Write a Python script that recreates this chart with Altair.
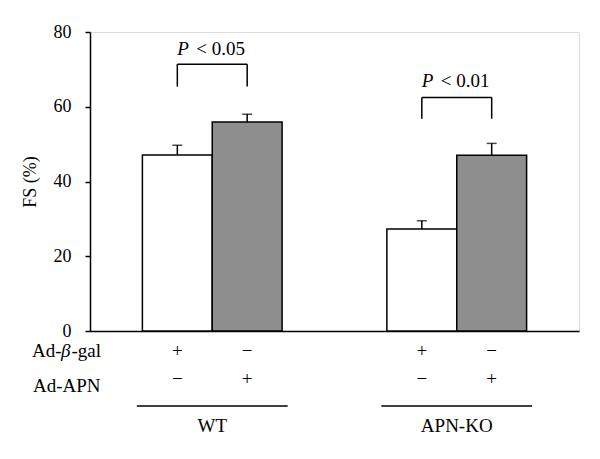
import altair as alt
import pandas as pd

# ---- data ----
groups = ["WT", "APN-KO"]
conditions = ["Ad-β-gal", "Ad-APN"]
fs_mean = [47.1, 55.9, 27.3, 47.0]      # WT β-gal, WT APN, KO β-gal, KO APN
fs_sem = [2.6, 2.1, 2.2, 3.2]
beta_gal_signs = ["+", "−", "+", "−"]
apn_signs = ["−", "+", "−", "+"]
p_values = ["< 0.05", "< 0.01"]
bracket_top = [71.4, 62.5]
bracket_leg_bottom = [65.4, 56.8]
p_text_level = [73.9, 65.2]

FONT = "Liberation Serif"
GRAY = "#8e8e8e"

# ---- layout in data units (x axis 0..7) ----
rows = []
for gi, g in enumerate(groups):
    for ci, c in enumerate(conditions):
        i = gi * 2 + ci
        x0 = 0.75 + 3.5 * gi + ci
        rows.append({
            "group": g, "cond": c, "fs": fs_mean[i], "top": fs_mean[i] + fs_sem[i],
            "x0": x0, "x1": x0 + 1, "xm": x0 + 0.5,
            "s1": beta_gal_signs[i], "s2": apn_signs[i],
        })
bars_df = pd.DataFrame(rows)

grp_rows = []
for gi, g in enumerate(groups):
    center = 1.75 + 3.5 * gi
    grp_rows.append({
        "group": g, "center": center, "left": center - 0.5, "right": center + 0.5,
        "lineL": center - 1.08, "lineR": center + 1.08,
        "btop": bracket_top[gi], "bbot": bracket_leg_bottom[gi],
        "plev": p_text_level[gi], "p": p_values[gi],
    })
grp_df = pd.DataFrame(grp_rows)
legs_df = pd.concat([
    grp_df.assign(lx=grp_df["left"]),
    grp_df.assign(lx=grp_df["right"]),
])

xs = alt.Scale(domain=[0, 7], nice=False, zero=False)
ys = alt.Scale(domain=[0, 80], nice=False)

base = alt.Chart(bars_df)

bars = base.mark_bar(stroke="black", strokeWidth=1.5).encode(
    x=alt.X("x0:Q", scale=xs, axis=alt.Axis(labels=False, ticks=False, title=None)),
    x2="x1:Q",
    y=alt.Y("fs:Q", scale=ys, axis=alt.Axis(values=[0, 20, 40, 60, 80], title="FS (%)")),
    y2=alt.Y2(datum=0),
    fill=alt.Fill("cond:N", scale=alt.Scale(domain=conditions, range=["white", GRAY]), legend=None),
)

err = base.mark_rule(color="black", strokeWidth=1.5).encode(
    x=alt.X("xm:Q", scale=xs), y=alt.Y("fs:Q", scale=ys), y2="top:Q")
caps = base.mark_tick(color="black", orient="horizontal", size=10, thickness=1.5).encode(
    x=alt.X("xm:Q", scale=xs), y=alt.Y("top:Q", scale=ys))

gbase = alt.Chart(grp_df)
bracket_h = gbase.mark_rule(color="black", strokeWidth=1.5).encode(
    x=alt.X("left:Q", scale=xs), x2="right:Q", y=alt.Y("btop:Q", scale=ys))
bracket_v = alt.Chart(legs_df).mark_rule(color="black", strokeWidth=1.5).encode(
    x=alt.X("lx:Q", scale=xs), y=alt.Y("bbot:Q", scale=ys), y2="btop:Q")

p_ital = gbase.mark_text(text="P", font=FONT, fontSize=19, fontStyle="italic", align="left",
                         baseline="alphabetic", dx=-35, color="black").encode(
    x=alt.X("center:Q", scale=xs), y=alt.Y("plev:Q", scale=ys))
p_rest = gbase.mark_text(font=FONT, fontSize=19, align="left", baseline="alphabetic",
                         dx=-16, color="black").encode(
    x=alt.X("center:Q", scale=xs), y=alt.Y("plev:Q", scale=ys), text="p:N")

signs1 = base.mark_text(font=FONT, fontSize=19, baseline="alphabetic", color="black").encode(
    x=alt.X("xm:Q", scale=xs), y=alt.value(325), text="s1:N")
signs2 = base.mark_text(font=FONT, fontSize=19, baseline="alphabetic", color="black").encode(
    x=alt.X("xm:Q", scale=xs), y=alt.value(353), text="s2:N")

pre, post = conditions[0].split("β")
lab_df = pd.DataFrame({"t": [pre, "β", post, conditions[1]],
                       "style": ["normal", "italic", "normal", "normal"],
                       "px": [-58, -29, -18.5, -57], "py": [325, 325, 325, 359.5]})
row_labels = []
for _, r in lab_df.iterrows():
    row_labels.append(
        alt.Chart(pd.DataFrame({"t": [r["t"]]})).mark_text(
            font=FONT, fontSize=19, fontStyle=r["style"], align="left",
            baseline="alphabetic", color="black").encode(
            x=alt.value(float(r["px"])), y=alt.value(float(r["py"])), text="t:N"))

group_lines = gbase.mark_rule(color="black", strokeWidth=1.5).encode(
    x=alt.X("lineL:Q", scale=xs), x2="lineR:Q", y=alt.value(374))
group_labels = gbase.mark_text(font=FONT, fontSize=19, baseline="alphabetic", color="black").encode(
    x=alt.X("center:Q", scale=xs), y=alt.value(400), text="group:N")

chart = alt.layer(
    bars, err, caps, bracket_h, bracket_v, p_ital, p_rest,
    signs1, signs2, *row_labels, group_lines, group_labels,
).properties(
    width=489, height=299,
    autosize=alt.AutoSizeParams(type="none"),
    padding={"left": 82, "top": 24, "right": 13, "bottom": 120},
).configure_view(stroke=None).configure(background="white").configure_axis(
    grid=False, domainColor="black", domainWidth=1.5,
    tickColor="black", tickWidth=1.5, tickSize=5,
    labelFont=FONT, labelFontSize=18, labelColor="black", labelPadding=14,
    titleFont=FONT, titleFontSize=18, titleFontWeight="normal", titleColor="black",
    titlePadding=14,
)

chart.save("out.html", embed_options={"renderer": "svg", "actions": False})
